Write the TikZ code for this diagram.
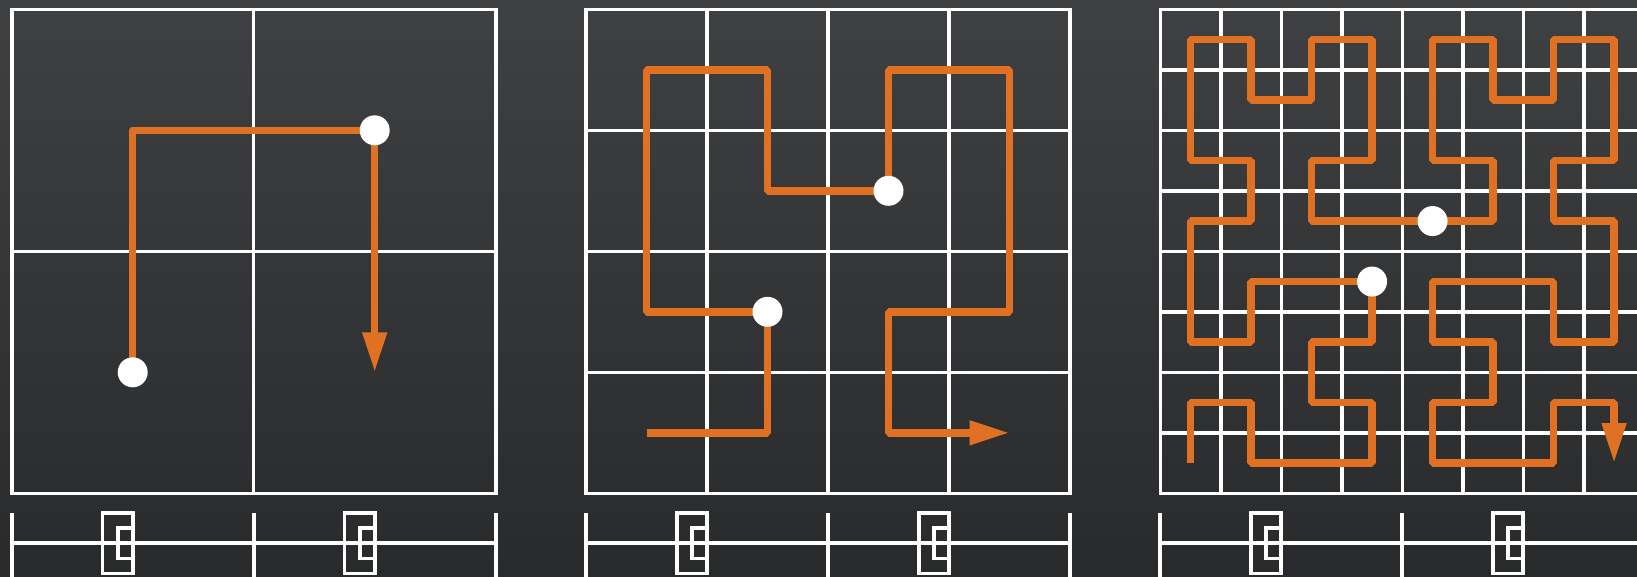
\documentclass[tikz,border=0pt]{standalone}
\usetikzlibrary{arrows.meta}
\definecolor{bgtop}{RGB}{63,64,65}
\definecolor{bgbot}{RGB}{41,42,43}
\definecolor{curvecol}{RGB}{224,113,35}
\begin{document}
\begin{tikzpicture}[x=1pt,y=-1pt,
  gridline/.style={draw=white, line width=3.4pt},
  frameline/.style={draw=white, line width=3.6pt},
  curveline/.style={draw=curvecol, line width=7.5pt, line join=bevel, -{Triangle[length=40pt,width=23pt]}},
  dot/.style={circle, fill=white, minimum size=30pt, inner sep=0pt},
  axisline/.style={draw=white, line width=4pt},
  marker/.style={draw=white, line width=3.8pt}]
\useasboundingbox (0,0) rectangle (1637,576);
\clip (0,0) rectangle (1637,576);
\shade[top color=bgtop, bottom color=bgbot] (0,0) rectangle (1637,576);

% ---------- panel 1 (2x2) ----------
\begin{scope}[shift={(11.7,9.3)}, x=242pt, y=-242pt]
  \draw[gridline] (1,0) -- (1,2);
  \draw[gridline] (0,1) -- (2,1);
  \draw[frameline] (0,0) rectangle (2,2);
  \draw[curveline, line join=round] (.5,1.5) -- (.5,.5) -- (1.5,.5) -- (1.5,1.5);
  \node[dot] (p1a) at (.5,1.5) {};
  \node[dot] (p1b) at (1.5,.5) {};
\end{scope}

% ---------- panel 2 (4x4) ----------
\begin{scope}[shift={(586,9.3)}, x=121pt, y=-121pt]
  \foreach \k in {1,2,3} {
    \draw[gridline] (\k,0) -- (\k,4);
    \draw[gridline] (0,\k) -- (4,\k);
  }
  \draw[frameline] (0,0) rectangle (4,4);
  \draw[curveline] (.5,3.5) -- (1.5,3.5) -- (1.5,2.5) -- (.5,2.5) -- (.5,.5) -- (1.5,.5)
    -- (1.5,1.5) -- (2.5,1.5) -- (2.5,.5) -- (3.5,.5) -- (3.5,2.5) -- (2.5,2.5)
    -- (2.5,3.5) -- (3.5,3.5);
  \node[dot] (p2a) at (1.5,2.5) {};
  \node[dot] (p2b) at (2.5,1.5) {};
\end{scope}

% ---------- panel 3 (8x8) ----------
\begin{scope}[shift={(1160.3,9.3)}, x=60.5pt, y=-60.5pt]
  \foreach \k in {1,...,7} {
    \draw[gridline] (\k,0) -- (\k,8);
    \draw[gridline] (0,\k) -- (8,\k);
  }
  \draw[frameline] (0,0) rectangle (8,8);
  \draw[curveline] (.5,7.5) -- (.5,6.5) -- (1.5,6.5) -- (1.5,7.5) -- (3.5,7.5) -- (3.5,6.5)
    -- (2.5,6.5) -- (2.5,5.5) -- (3.5,5.5) -- (3.5,4.5) -- (1.5,4.5) -- (1.5,5.5)
    -- (.5,5.5) -- (.5,3.5) -- (1.5,3.5) -- (1.5,2.5) -- (.5,2.5) -- (.5,.5)
    -- (1.5,.5) -- (1.5,1.5) -- (2.5,1.5) -- (2.5,.5) -- (3.5,.5) -- (3.5,2.5)
    -- (2.5,2.5) -- (2.5,3.5) -- (5.5,3.5) -- (5.5,2.5) -- (4.5,2.5) -- (4.5,.5)
    -- (5.5,.5) -- (5.5,1.5) -- (6.5,1.5) -- (6.5,.5) -- (7.5,.5) -- (7.5,2.5)
    -- (6.5,2.5) -- (6.5,3.5) -- (7.5,3.5) -- (7.5,5.5) -- (6.5,5.5) -- (6.5,4.5)
    -- (4.5,4.5) -- (4.5,5.5) -- (5.5,5.5) -- (5.5,6.5) -- (4.5,6.5) -- (4.5,7.5)
    -- (6.5,7.5) -- (6.5,6.5) -- (7.5,6.5) -- (7.5,7.5);
  \node[dot] (p3a) at (3.5,4.5) {};
  \node[dot] (p3b) at (4.5,3.5) {};
\end{scope}

% ---------- bottom strips ----------
\foreach \L/\len in {11.7/484, 586/484, 1160.3/520} {
  \begin{scope}[shift={(\L,0)}]
    \draw[axisline] (0,543.3) -- (\len,543.3);
    \foreach \t in {0,242,484} {
      \draw[axisline] (\t,513) -- (\t,580);
    }
    \foreach \s in {0,242} {
      \draw[marker] (\s+90.75,513) rectangle (\s+121,573.5);
      \draw[marker] (\s+105.9,528.2) rectangle (\s+121,558.5);
    }
  \end{scope}
}
\end{tikzpicture}
\end{document}
